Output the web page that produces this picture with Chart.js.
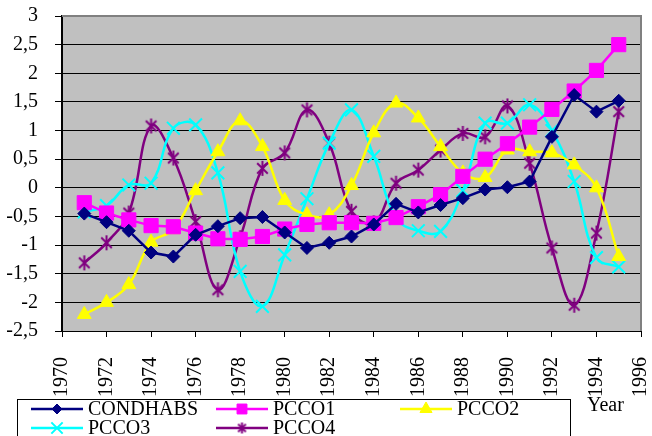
<!DOCTYPE html>
<html>
<head>
<meta charset="utf-8">
<script src="https://cdn.jsdelivr.net/npm/chart.js@4.4.1/dist/chart.umd.min.js"></script>
<style>
  html, body { margin: 0; padding: 0; background: #fff; }
  canvas { display: block; }
</style>
</head>
<body>
<canvas id="chart" width="652" height="436"></canvas>
<script>
// Annual index values, 1971–1995
const years = [1971, 1972, 1973, 1974, 1975, 1976, 1977, 1978, 1979, 1980, 1981, 1982, 1983,
               1984, 1985, 1986, 1987, 1988, 1989, 1990, 1991, 1992, 1993, 1994, 1995];

const condhabs = [-0.45, -0.6, -0.75, -1.13, -1.2, -0.82, -0.67, -0.53, -0.51, -0.78, -1.05, -0.96, -0.85,
                  -0.64, -0.28, -0.43, -0.3, -0.18, -0.03, 0.01, 0.11, 0.89, 1.62, 1.33, 1.52];
const pcco1 = [-0.26, -0.44, -0.56, -0.66, -0.68, -0.79, -0.89, -0.9, -0.85, -0.72, -0.64, -0.61, -0.61,
               -0.62, -0.52, -0.33, -0.12, 0.2, 0.5, 0.77, 1.06, 1.37, 1.69, 2.05, 2.5];
const pcco2 = [-2.21, -2.0, -1.69, -0.95, -0.73, -0.05, 0.63, 1.17, 0.72, -0.22, -0.47, -0.47, 0.04,
               0.96, 1.48, 1.22, 0.72, 0.26, 0.18, 0.66, 0.63, 0.61, 0.4, 0.0, -1.2];
const pcco3 = [-0.42, -0.31, 0.05, 0.08, 1.04, 1.1, 0.26, -1.46, -2.07, -1.17, -0.19, 0.78, 1.36,
               0.55, -0.53, -0.75, -0.76, -0.05, 1.13, 1.13, 1.45, 1.0, 0.11, -1.22, -1.38];
const pcco4 = [-1.31, -0.96, -0.44, 1.08, 0.52, -0.59, -1.78, -0.87, 0.34, 0.61, 1.36, 0.78, -0.41,
               -0.61, 0.08, 0.31, 0.66, 0.95, 0.89, 1.43, 0.43, -1.05, -2.05, -0.79, 1.33];

const seriesNames = ['CONDHABS', 'PCCO1', 'PCCO2', 'PCCO3', 'PCCO4'];

// Axis ticks
const xTicks = [1970, 1972, 1974, 1976, 1978, 1980, 1982, 1984, 1986, 1988, 1990, 1992, 1994, 1996];
const yTicks = [-2.5, -2, -1.5, -1, -0.5, 0, 0.5, 1, 1.5, 2, 2.5, 3];
const xTitle = 'Year';

const FONT = '"Liberation Serif", "Times New Roman", Times, serif';
const FONT_SIZE = 20;

// Asterisk marker: an X with a vertical stroke
function makeAsterisk(size, color, lw) {
  const c = document.createElement('canvas');
  c.width = size; c.height = size;
  const g = c.getContext('2d');
  g.strokeStyle = color; g.lineWidth = lw; g.lineCap = 'butt';
  const m = size / 2, r = size / 2 - 1;
  const d = r * Math.SQRT1_2;
  g.beginPath();
  g.moveTo(m - d, m - d); g.lineTo(m + d, m + d);
  g.moveTo(m + d, m - d); g.lineTo(m - d, m + d);
  g.moveTo(m, m - r); g.lineTo(m, m + r);
  g.stroke();
  return c;
}
const starBig = makeAsterisk(17, '#800080', 2);
const starSmall = makeAsterisk(13, '#800080', 2);

const toPoints = vals => years.map((y, i) => ({ x: y, y: vals[i] }));

const styles = [
  { color: '#000080', pointStyle: 'rectRot', radius: 6.5, legendRadius: 5, tension: 0, bw: 1 },
  { color: '#FF00FF', pointStyle: 'rect', radius: 10, legendRadius: 7, tension: 0, bw: 1 },
  { color: '#FFFF00', pointStyle: 'triangle', radius: 8, legendRadius: 7, tension: 0.4, bw: 1 },
  { color: '#00FFFF', pointStyle: 'crossRot', radius: 9, legendRadius: 8, tension: 0.4, bw: 2 },
  { color: '#800080', pointStyle: starBig, radius: 8, legendRadius: 6, tension: 0.4, bw: 2, legendStyle: starSmall }
];
const seriesValues = [condhabs, pcco1, pcco2, pcco3, pcco4];

const datasets = seriesNames.map((name, i) => {
  const s = styles[i];
  return {
    label: name,
    data: toPoints(seriesValues[i]),
    borderColor: s.color,
    backgroundColor: s.color,
    borderWidth: 2.5,
    tension: s.tension,
    pointStyle: s.pointStyle,
    pointRadius: s.radius,
    pointHoverRadius: s.radius,
    pointBackgroundColor: s.color,
    pointBorderColor: s.color,
    pointBorderWidth: s.bw,
    clip: false
  };
});

const frame = {
  id: 'frame',
  beforeDraw(chart) {
    const { ctx, chartArea: a } = chart;
    ctx.save();
    ctx.fillStyle = '#fff';
    ctx.fillRect(0, 0, chart.width, chart.height);
    ctx.fillStyle = '#C0C0C0';
    ctx.fillRect(a.left, a.top, a.right - a.left, a.bottom - a.top);
    ctx.restore();
  },
  afterDraw(chart) {
    const { ctx, chartArea: a } = chart;
    ctx.save();
    // grey frame on top and right of the plot area
    ctx.strokeStyle = '#808080';
    ctx.lineWidth = 2;
    ctx.beginPath();
    ctx.moveTo(a.left, a.top);
    ctx.lineTo(a.right, a.top);
    ctx.lineTo(a.right, a.bottom);
    ctx.stroke();

    // axis title
    ctx.fillStyle = '#000';
    ctx.font = FONT_SIZE + 'px ' + FONT;
    ctx.textBaseline = 'alphabetic';
    ctx.textAlign = 'left';
    ctx.fillText(xTitle, 587, 411);

    // legend box
    ctx.fillStyle = '#fff';
    ctx.fillRect(17.5, 399.5, 553, 40);
    ctx.strokeStyle = '#000';
    ctx.lineWidth = 1;
    ctx.strokeRect(17.5, 399.5, 553, 40);

    const cols = [31, 216, 400];
    const rows = [409, 428];
    chart.data.datasets.forEach((ds, i) => {
      const s = styles[i];
      const col = cols[i % 3];
      const row = rows[Math.floor(i / 3)];
      ctx.strokeStyle = s.color;
      ctx.lineWidth = 2.5;
      ctx.beginPath();
      ctx.moveTo(col, row);
      ctx.lineTo(col + 52, row);
      ctx.stroke();
      ctx.fillStyle = s.color;
      ctx.lineWidth = s.bw;
      Chart.helpers.drawPoint(ctx, {
        pointStyle: s.legendStyle || s.pointStyle,
        radius: s.legendRadius,
        rotation: 0,
        borderWidth: s.bw
      }, col + 26, row);
      ctx.fillStyle = '#000';
      ctx.font = FONT_SIZE + 'px ' + FONT;
      ctx.textBaseline = 'middle';
      ctx.textAlign = 'left';
      ctx.fillText(ds.label, col + 57, row + 1);
    });
    ctx.restore();
  }
};

new Chart(document.getElementById('chart'), {
  type: 'line',
  data: { datasets },
  options: {
    responsive: false,
    animation: false,
    events: [],
    layout: { padding: { left: 0, top: 16, right: 6, bottom: 0 } },
    plugins: { legend: { display: false }, tooltip: { enabled: false } },
    scales: {
      x: {
        type: 'linear',
        min: 1970,
        max: 1996,
        afterBuildTicks: s => { s.ticks = xTicks.map(v => ({ value: v })); },
        afterFit: s => { s.height = 105; s.paddingLeft = 0; s.paddingRight = 0; },
        grid: { drawOnChartArea: false, drawTicks: true, tickLength: 6, tickColor: '#000', tickWidth: 1 },
        border: { display: true, color: '#000', width: 1 },
        ticks: {
          autoSkip: false,
          maxRotation: 90,
          minRotation: 90,
          padding: 20,
          color: '#000',
          font: { family: FONT, size: FONT_SIZE },
          callback: v => String(v)
        }
      },
      y: {
        min: -2.5,
        max: 3,
        afterBuildTicks: s => { s.ticks = yTicks.map(v => ({ value: v })); },
        afterFit: s => { s.width = 62; s.paddingTop = 0; s.paddingBottom = 0; },
        grid: { color: '#000', lineWidth: 1, drawTicks: true, tickLength: 7, tickColor: '#000' },
        border: { display: true, color: '#000', width: 2 },
        ticks: {
          padding: 17,
          color: '#000',
          font: { family: FONT, size: FONT_SIZE },
          callback: v => String(v).replace('.', ',')
        }
      }
    }
  },
  plugins: [frame]
});
</script>
</body>
</html>
